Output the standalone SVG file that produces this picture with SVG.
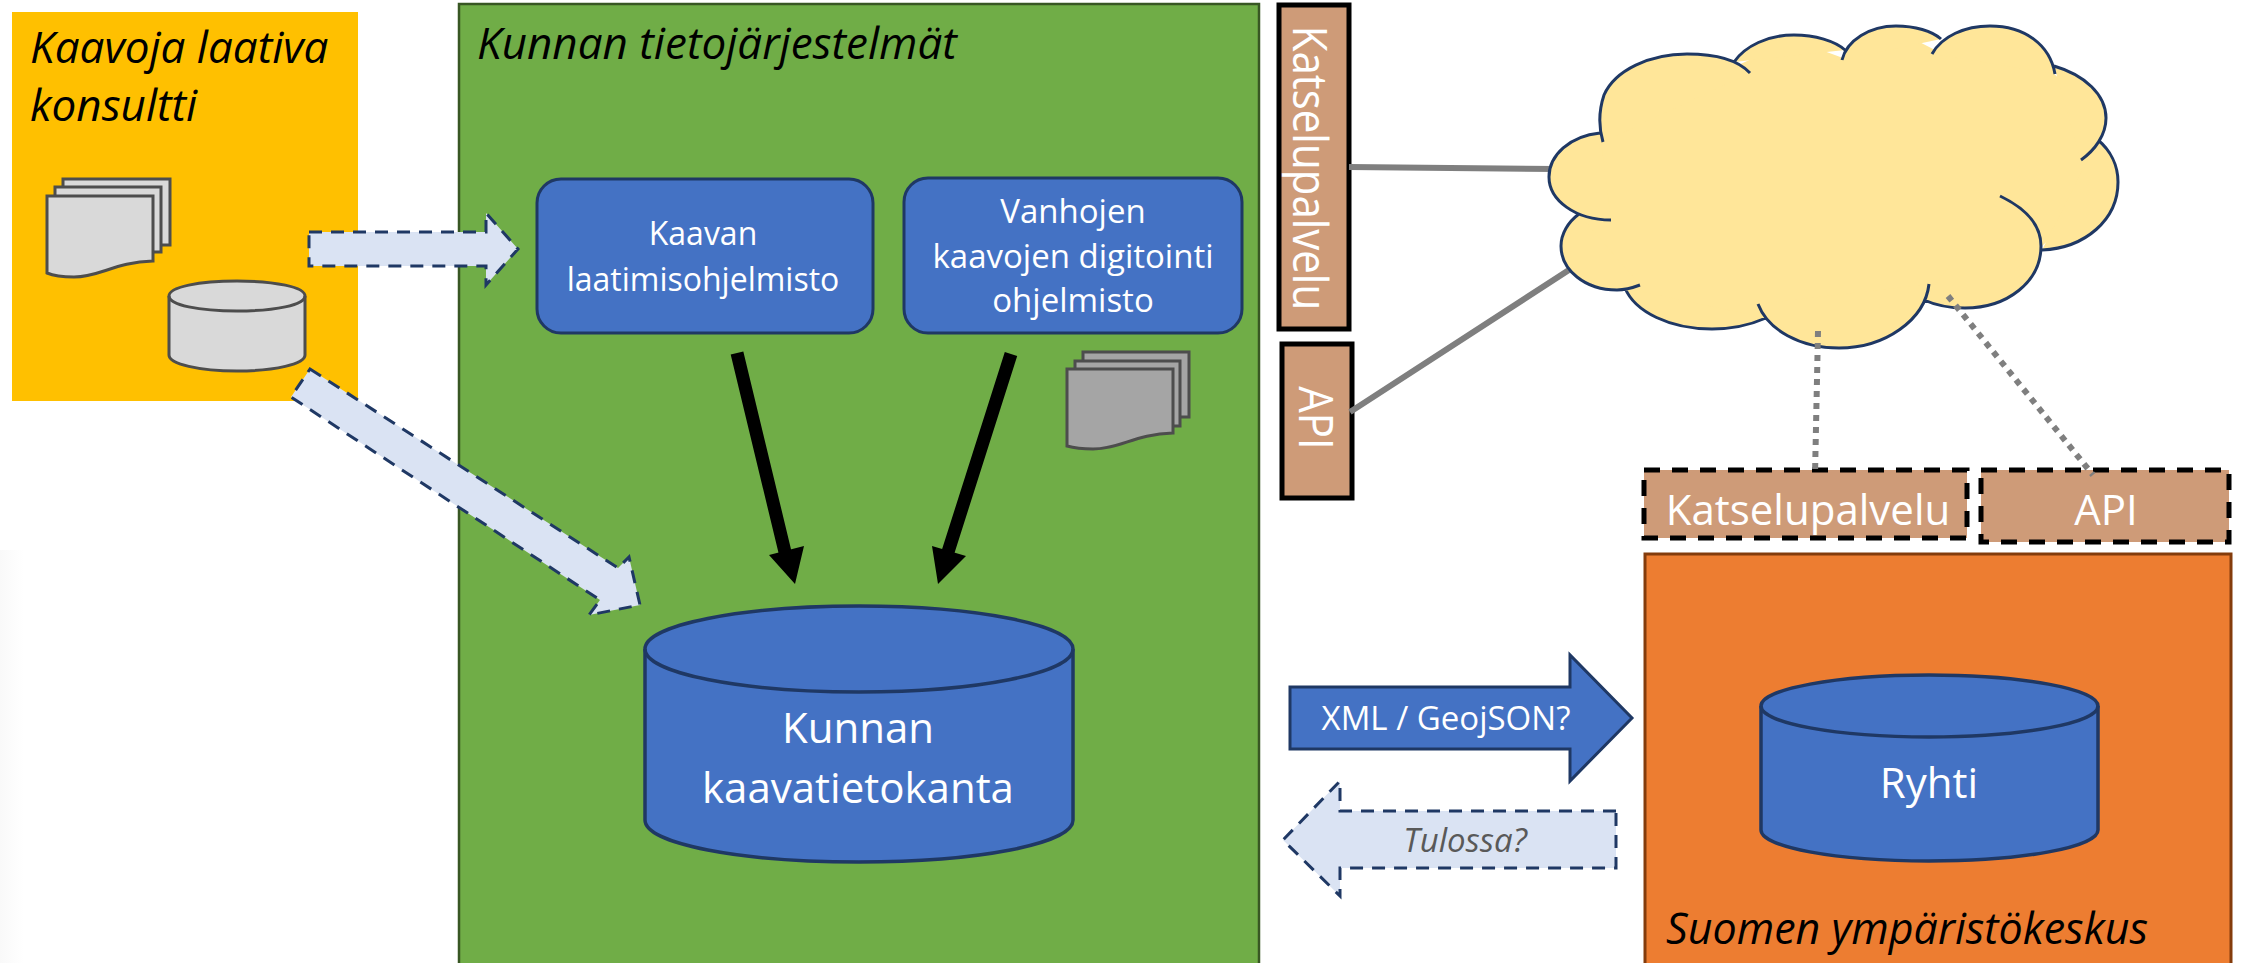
<svg xmlns="http://www.w3.org/2000/svg" width="2241" height="963" viewBox="0 0 2241 963">
<style>
text{font-family:"Open Sans","Noto Sans","Liberation Sans",sans-serif}
.t{fill:#fff;text-anchor:middle}
.i{fill:#000;font-style:italic;font-size:44px}
.bl{fill:#4472C4;stroke:#1F3864;stroke-width:3}
.dash{fill:#DAE3F3;stroke:#1F3864;stroke-width:3;stroke-dasharray:13 9}
.db{fill:none;stroke:#1F3864;stroke-width:3.5}
.gr{stroke:#4d4d4d;stroke-width:3}
.tan{fill:#CE9B78;stroke:#000;stroke-width:5}
.tand{fill:#CE9B78;stroke:#000;stroke-width:5;stroke-dasharray:16 12}
</style>
<defs>
<linearGradient id="bgf" x1="0" x2="1" y1="0" y2="0"><stop offset="0" stop-color="#f9f9f9"/><stop offset="1" stop-color="#fff"/></linearGradient>
</defs>
<rect width="2241" height="963" fill="#fff"/>
<rect x="0" y="550" width="24" height="413" fill="url(#bgf)"/>

<g id="konsultti">
<rect x="12" y="12" width="346" height="389" fill="#FFC000"/>
<text class="i" x="30" y="63">Kaavoja laativa</text>
<text class="i" x="30" y="121">konsultti</text>
</g>
<g id="kunta">
<rect x="459" y="4" width="800" height="970" fill="#70AD47" stroke="#385723" stroke-width="2.5"/>
<text class="i" x="477" y="59">Kunnan tietojärjestelmät</text>
</g>
<g id="docs1" class="gr" fill="#D9D9D9">
<path d="M63,179H170V245H63Z"/>
<path d="M55,187H161V252H55Z"/>
<path d="M47,196H153V261C115,262 100,277 74,277C62,277 54,276 47,273Z"/>
</g>
<g id="db1" fill="#D9D9D9" class="gr">
<path d="M169,296C169,287 199,281 237,281S305,287 305,296V355C305,364 275,371 237,371S169,364 169,355Z"/>
<path d="M169,296C169,305 199,311 237,311S305,305 305,296" fill="none"/>
</g>
<g id="laatimis">
<rect class="bl" x="537" y="179" width="336" height="154" rx="24"/>
<text class="t" font-size="32" x="703" y="245">Kaavan</text>
<text class="t" font-size="32" x="703" y="291">laatimisohjelmisto</text>
</g>
<g id="digitointi">
<rect class="bl" x="904" y="178" width="338" height="155" rx="24"/>
<text class="t" font-size="33" x="1073" y="223">Vanhojen</text>
<text class="t" font-size="33" x="1073" y="268">kaavojen digitointi</text>
<text class="t" font-size="33" x="1073" y="312">ohjelmisto</text>
</g>
<g id="docs2" class="gr" fill="#A5A5A5">
<path d="M1083,352H1189V417H1083Z"/>
<path d="M1075,361H1180V426H1075Z"/>
<path d="M1067,369H1173V433C1135,434 1120,449 1093,449C1081,449 1074,448 1067,446Z"/>
</g>
<g id="kantadb">
<path class="bl" style="stroke-width:3.5" d="M645,649C645,625 741,606 859,606S1073,625 1073,649V820C1073,844 977,862 859,862S645,844 645,820Z"/>
<path class="db" d="M645,649C645,673 741,692 859,692S1073,673 1073,649"/>
<text class="t" font-size="42" x="858" y="743">Kunnan</text>
<text class="t" font-size="42" x="858" y="803">kaavatietokanta</text>
</g>
<g id="suomi">
<rect x="1645" y="554" width="586" height="420" fill="#ED7D31" stroke="#843C0C" stroke-width="3"/>
<text class="i" style="font-size:43px" x="1666" y="944">Suomen ympäristökeskus</text>
</g>
<g id="ryhti">
<path class="bl" style="stroke-width:3.5" d="M1761,706C1761,689 1836,675 1929,675S2098,689 2098,706V830C2098,847 2023,861 1929,861S1761,847 1761,830Z"/>
<path class="db" d="M1761,706C1761,723 1836,737 1929,737S2098,723 2098,706"/>
<text class="t" font-size="42" x="1929" y="798">Ryhti</text>
</g>
<g id="kp-v">
<rect class="tan" x="1279" y="5" width="70" height="324"/>
<text class="t" font-size="42" transform="translate(1293,168) rotate(90) scale(1,1.13)">Katselupalvelu</text>
</g>
<g id="api-v">
<rect class="tan" x="1282" y="344" width="70" height="154"/>
<text class="t" font-size="42" transform="translate(1299,418) rotate(90) scale(1,1.13)">API</text>
</g>
<g id="connectors">
<path d="M1349,167L1555,169M1350,412L1572,268" stroke="#7F7F7F" stroke-width="6" fill="none"/>
<path class="dash" d="M309,232H486V213L518,249L486,285V266H309Z"/>
<path class="dash" d="M310,369L618,568L629,557L640,605L589,615L600,600L291,397Z"/>
<path d="M737,353L785,552M1011,354L948,552" stroke="#000" stroke-width="13" fill="none"/>
<path d="M769,555L795,584L804,546ZM932,546L938,584L966,556Z" fill="#000"/>
<path class="bl" d="M1290,687H1570V655L1632,718L1570,781V749H1290Z"/>
<path class="dash" d="M1616,811H1340V781L1283,840L1340,896V868H1616Z"/>
</g>
<g id="cloud">
<path fill="#FFE699" d="M1604,121L1687,58L1736,66L1794,40L1843,58L1896,30L1935,50L1990,30L2052,72L2102,118L2095,142L2114,182L2042,246L2036,250L1965,304L1926,298L1839,344L1766,318L1712,325L1625,288L1617,286L1565,246L1579,216L1553,177L1600,137Z"/>
<path fill="#FFE699" stroke="#1F3864" stroke-width="3" d="M1603,142C1598,125 1599,110 1604,95C1615,70 1650,54 1687,54C1715,54 1738,60 1750,73
M1734,62C1745,46 1768,35 1794,35C1815,35 1835,41 1845,50
M1842,60C1847,40 1870,26 1896,26C1915,26 1932,31 1941,39
M1932,54C1942,36 1965,26 1990,26C2025,26 2050,45 2055,74
M2054,66C2085,75 2106,95 2106,118C2106,135 2095,150 2081,160
M2098,140C2110,150 2118,165 2118,182C2118,220 2085,248 2042,250
M2000,196C2025,208 2041,225 2041,246C2041,282 2007,308 1965,308C1950,308 1935,305 1924,300
M1929,284C1925,320 1885,348 1839,348C1800,348 1768,330 1758,304
M1766,318C1750,325 1732,329 1712,329C1670,329 1635,312 1625,288
M1640,285C1632,288 1625,290 1617,290C1585,290 1561,270 1561,246C1561,234 1568,222 1579,214
M1611,220C1575,220 1549,200 1549,177C1549,155 1570,136 1600,133"/>
</g>
<g id="kp-d">
<rect class="tand" x="1644" y="470" width="323" height="68"/>
<text class="t" font-size="42" x="1808" y="525">Katselupalvelu</text>
</g>
<g id="api-d">
<rect class="tand" x="1981" y="470" width="248" height="72"/>
<text class="t" font-size="42" x="2106" y="525">API</text>
</g>
<g id="dotted">
<path d="M1818,331L1815,475M1948,296L2093,475" stroke="#7F7F7F" stroke-width="6" stroke-dasharray="6 6" fill="none"/>
</g>
<g id="labels">
<text class="t" font-size="33" x="1446" y="730">XML / GeojSON?</text>
<text font-size="33" font-style="italic" fill="#595959" text-anchor="middle" x="1465" y="852">Tulossa?</text>
</g>
</svg>
